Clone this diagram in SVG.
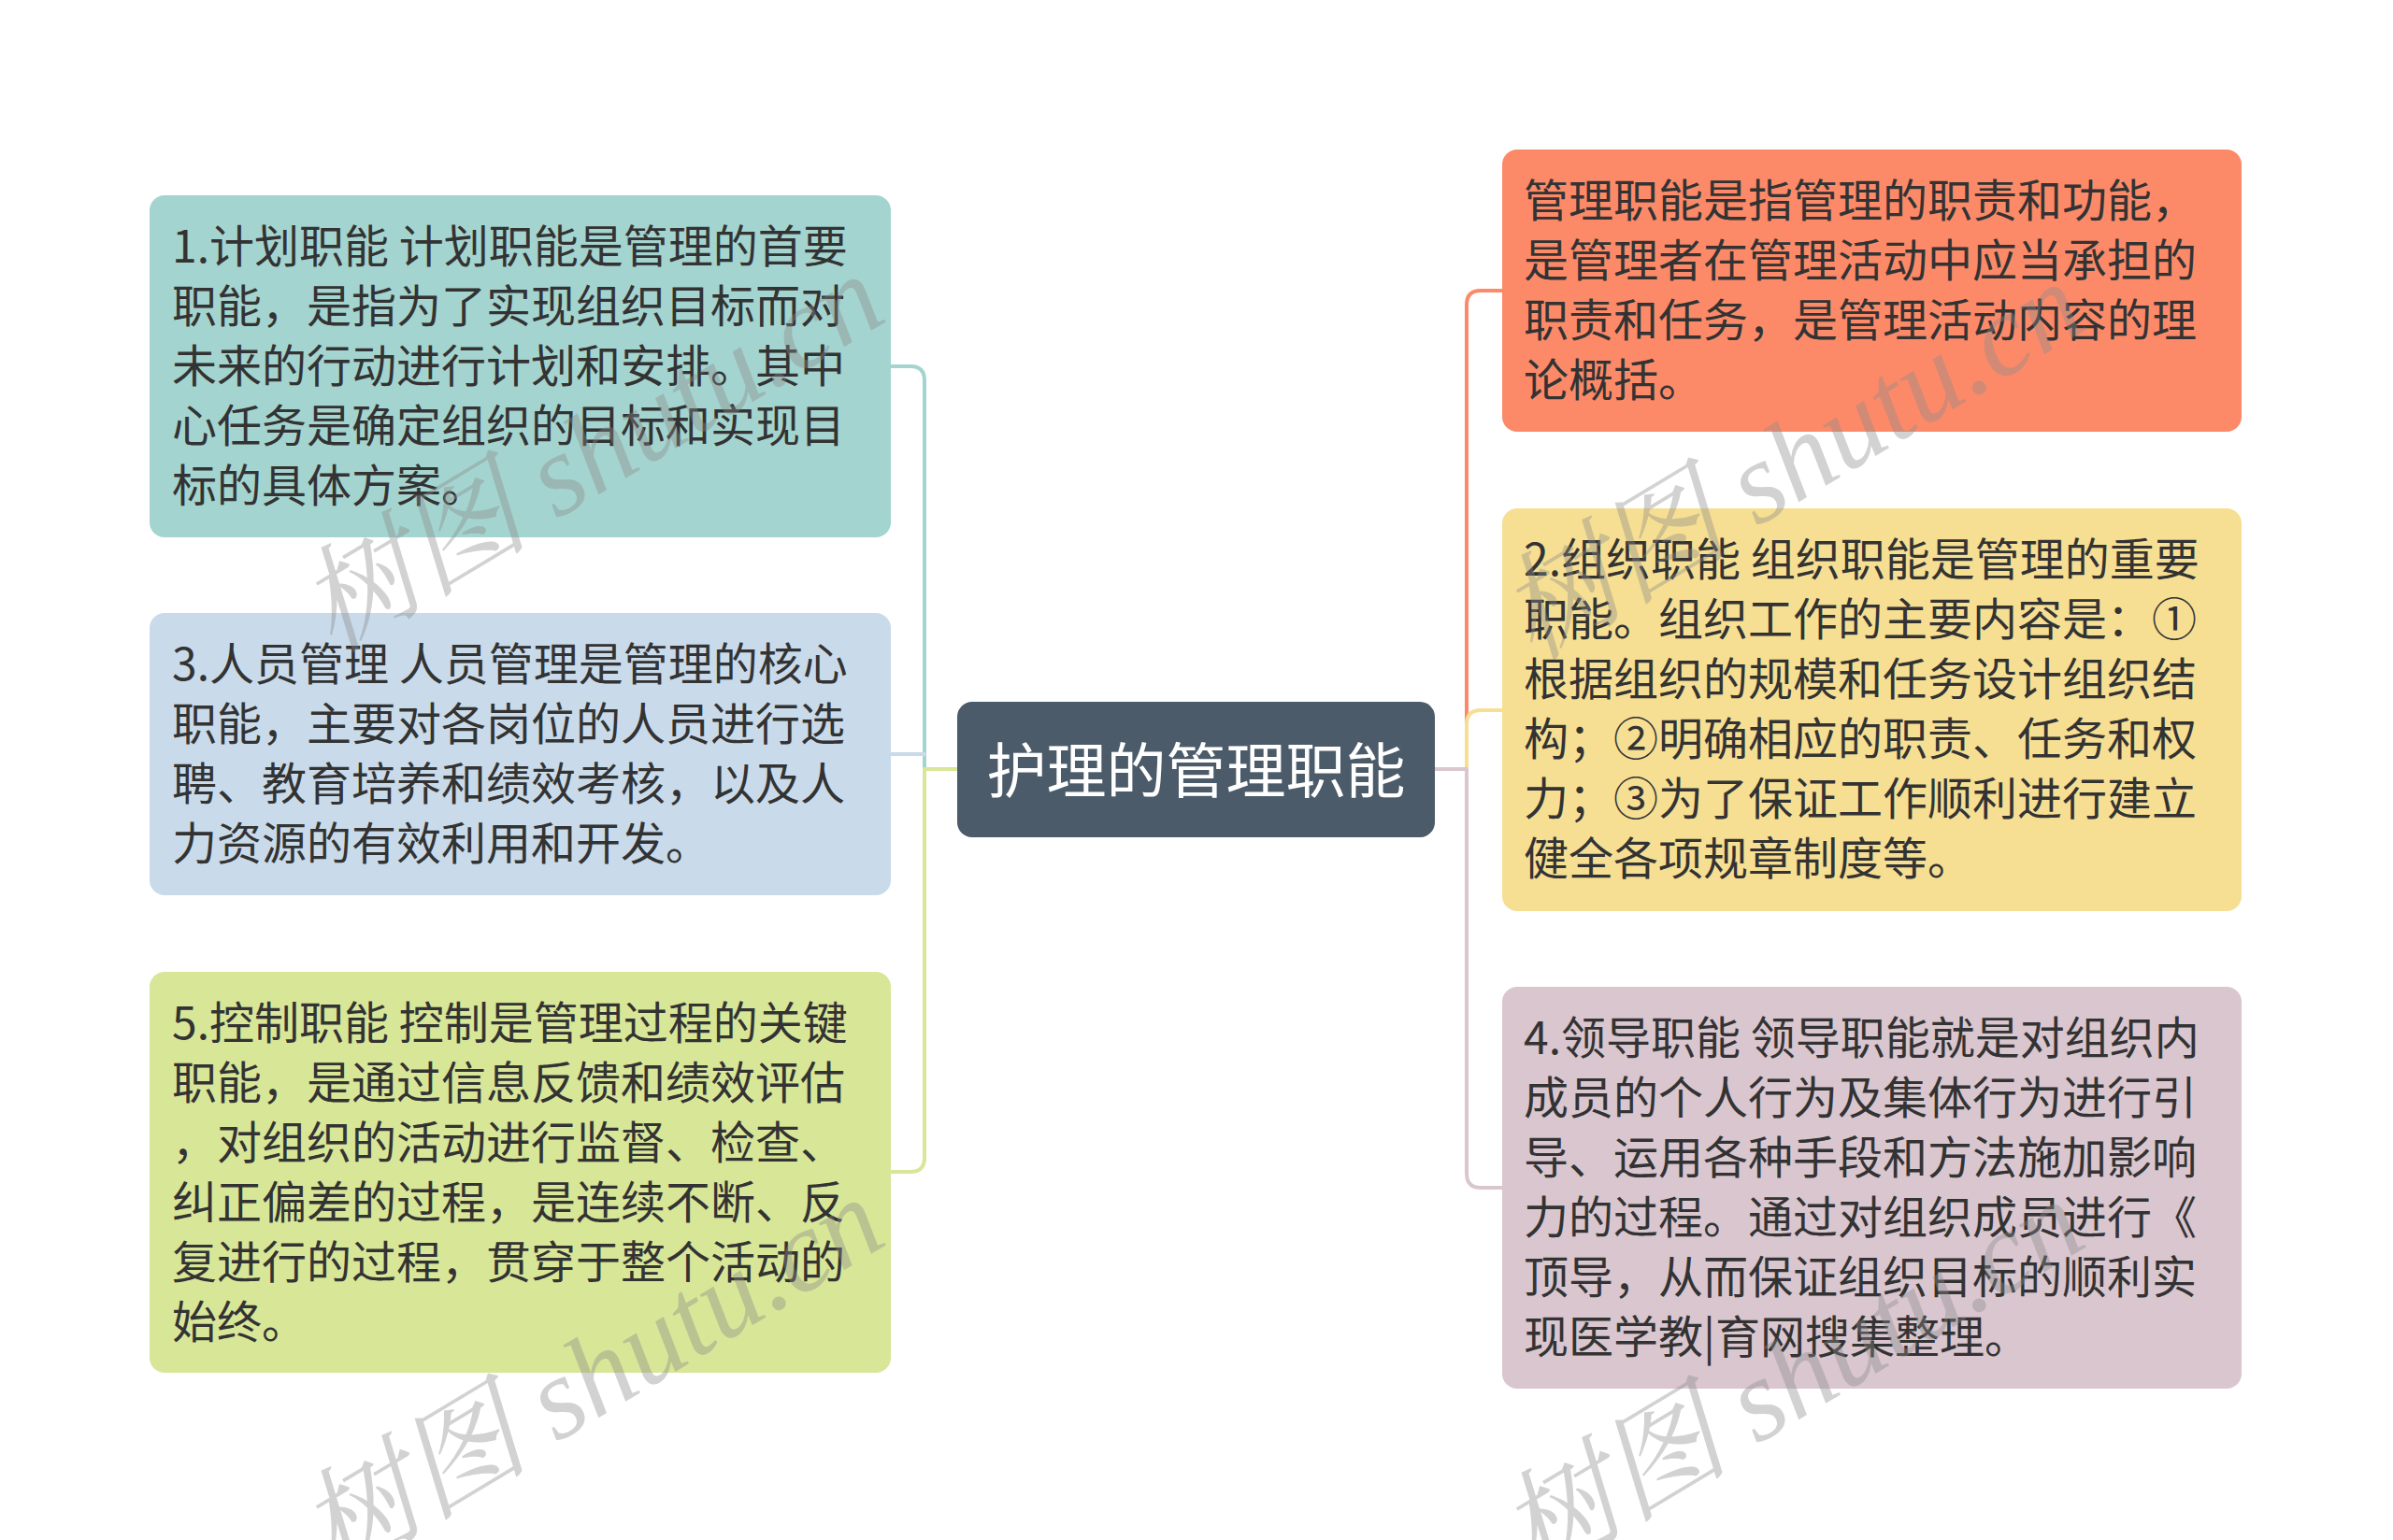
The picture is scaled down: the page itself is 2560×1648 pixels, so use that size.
<svg xmlns="http://www.w3.org/2000/svg" width="2560" height="1648" viewBox="0 0 2560 1648">
<style>
.t{font-family:"Noto Sans CJK SC","Noto Sans",sans-serif;font-size:48px;fill:#333333;}
.c{font-family:"Noto Sans CJK SC","Noto Sans",sans-serif;font-size:64px;fill:#ffffff;text-anchor:middle;}
.ln{fill:none;stroke-width:4;stroke-linecap:round;stroke-linejoin:round;}
.wm{font-family:"Liberation Serif","Noto Serif CJK SC","Noto Sans CJK SC",serif;font-style:italic;font-size:124px;fill:#8a8a8a;opacity:0.38;}
</style>
<rect width="2560" height="1648" fill="#ffffff"/>
<g id="connectors">
<path class="ln" stroke="#a4d4cf" d="M953,392 H974 Q989,392 989,407 V823"/>
<path class="ln" stroke="#c9dbea" d="M953,807 H989"/>
<path class="ln" stroke="#d8e698" d="M1024,823 H989 V1239 Q989,1254 974,1254 H953"/>
<path class="ln" stroke="#fc8a69" d="M1569,823 V326 Q1569,311 1584,311 H1607"/>
<path class="ln" stroke="#f6df93" d="M1569,823 V775 Q1569,760 1584,760 H1607"/>
<path class="ln" stroke="#d9c6cf" d="M1535,823 H1569 V1256 Q1569,1271 1584,1271 H1607"/>
</g>
<g id="center">
<rect x="1024" y="751" width="511" height="145" rx="16" fill="#4b5b6a"/>
<text class="c" x="1279.5" y="848">护理的管理职能</text>
</g>
<g id="node1">
<rect x="160" y="209" width="793" height="366" rx="16" fill="#a4d4cf"/>
<text class="t" x="184" y="281"><tspan x="184">1.计划职能 计划职能是管理的首要</tspan><tspan x="184" dy="64">职能，是指为了实现组织目标而对</tspan><tspan x="184" dy="64">未来的行动进行计划和安排。其中</tspan><tspan x="184" dy="64">心任务是确定组织的目标和实现目</tspan><tspan x="184" dy="64">标的具体方案。</tspan></text>
</g>
<g id="node3">
<rect x="160" y="656" width="793" height="302" rx="16" fill="#c9dbea"/>
<text class="t" x="184" y="728"><tspan x="184">3.人员管理 人员管理是管理的核心</tspan><tspan x="184" dy="64">职能，主要对各岗位的人员进行选</tspan><tspan x="184" dy="64">聘、教育培养和绩效考核，以及人</tspan><tspan x="184" dy="64">力资源的有效利用和开发。</tspan></text>
</g>
<g id="node5">
<rect x="160" y="1040" width="793" height="429" rx="16" fill="#d8e698"/>
<text class="t" x="184" y="1112"><tspan x="184">5.控制职能 控制是管理过程的关键</tspan><tspan x="184" dy="64">职能，是通过信息反馈和绩效评估</tspan><tspan x="184" dy="64">，对组织的活动进行监督、检查、</tspan><tspan x="184" dy="64">纠正偏差的过程，是连续不断、反</tspan><tspan x="184" dy="64">复进行的过程，贯穿于整个活动的</tspan><tspan x="184" dy="64">始终。</tspan></text>
</g>
<g id="node0">
<rect x="1607" y="160" width="791" height="302" rx="16" fill="#fc8a69"/>
<text class="t" x="1630" y="232"><tspan x="1630">管理职能是指管理的职责和功能，</tspan><tspan x="1630" dy="64">是管理者在管理活动中应当承担的</tspan><tspan x="1630" dy="64">职责和任务，是管理活动内容的理</tspan><tspan x="1630" dy="64">论概括。</tspan></text>
</g>
<g id="node2">
<rect x="1607" y="544" width="791" height="431" rx="16" fill="#f6df93"/>
<text class="t" x="1630" y="616"><tspan x="1630">2.组织职能 组织职能是管理的重要</tspan><tspan x="1630" dy="64">职能。组织工作的主要内容是：①</tspan><tspan x="1630" dy="64">根据组织的规模和任务设计组织结</tspan><tspan x="1630" dy="64">构；②明确相应的职责、任务和权</tspan><tspan x="1630" dy="64">力；③为了保证工作顺利进行建立</tspan><tspan x="1630" dy="64">健全各项规章制度等。</tspan></text>
</g>
<g id="node4">
<rect x="1607" y="1056" width="791" height="430" rx="16" fill="#d9c6cf"/>
<text class="t" x="1630" y="1128"><tspan x="1630">4.领导职能 领导职能就是对组织内</tspan><tspan x="1630" dy="64">成员的个人行为及集体行为进行引</tspan><tspan x="1630" dy="64">导、运用各种手段和方法施加影响</tspan><tspan x="1630" dy="64">力的过程。通过对组织成员进行《</tspan><tspan x="1630" dy="64">顶导，从而保证组织目标的顺利实</tspan><tspan x="1630" dy="64">现医学教|育网搜集整理。</tspan></text>
</g>
<g id="watermarks">
<text class="wm" transform="translate(356,700) rotate(-31)">树图 shutu.cn</text>
<text class="wm" transform="translate(356,1688) rotate(-31)">树图 shutu.cn</text>
<text class="wm" transform="translate(1640,708) rotate(-31)">树图 shutu.cn</text>
<text class="wm" transform="translate(1640,1690) rotate(-31)">树图 shutu.cn</text>
</g>
</svg>
